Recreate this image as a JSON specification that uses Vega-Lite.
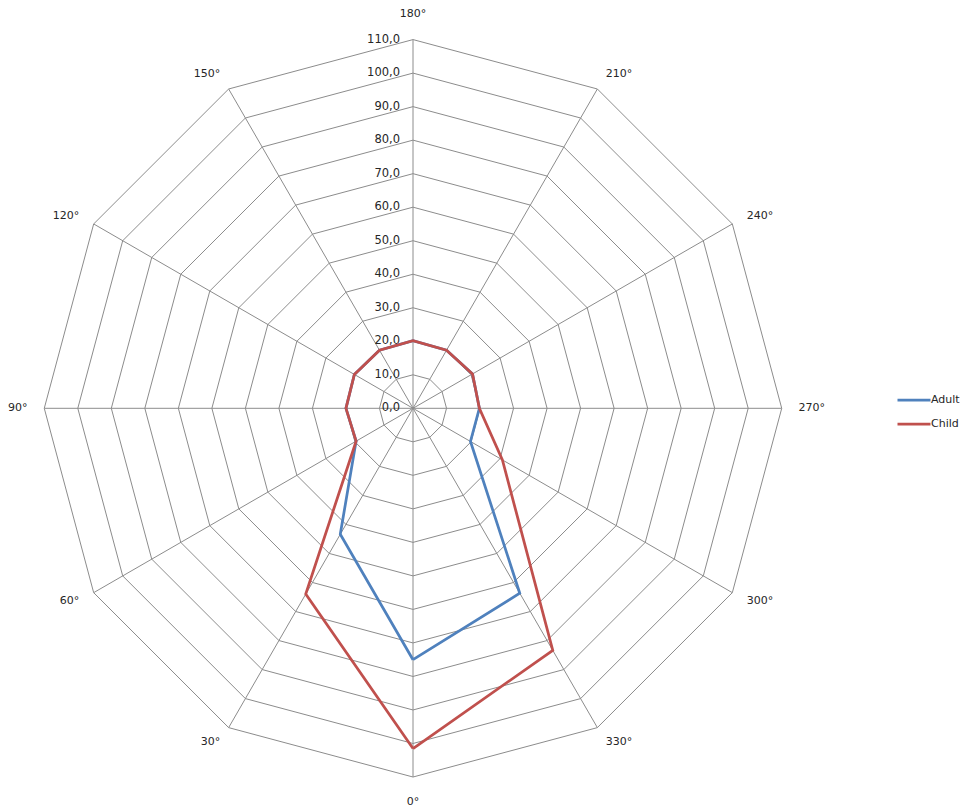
{
  "$schema": "https://vega.github.io/schema/vega-lite/v6.json",
  "width": 963,
  "height": 810,
  "autosize": {"type": "none"},
  "padding": 0,
  "background": "white",
  "view": {"stroke": null},
  "config": {"font": "DejaVu Sans", "text": {"font": "DejaVu Sans"}},
  "datasets": {
    "grid": [
      {"level": [10, 20, 30, 40, 50, 60, 70, 80, 90, 100, 110], "angle": [0, 30, 60, 90, 120, 150, 180, 210, 240, 270, 300, 330, 360]}
    ],
    "spokes": [
      {"angle": 0, "label": "0°"},
      {"angle": 30, "label": "30°"},
      {"angle": 60, "label": "60°"},
      {"angle": 90, "label": "90°"},
      {"angle": 120, "label": "120°"},
      {"angle": 150, "label": "150°"},
      {"angle": 180, "label": "180°"},
      {"angle": 210, "label": "210°"},
      {"angle": 240, "label": "240°"},
      {"angle": 270, "label": "270°"},
      {"angle": 300, "label": "300°"},
      {"angle": 330, "label": "330°"}
    ],
    "rings": [
      {"level": 0, "label": "0,0"},
      {"level": 10, "label": "10,0"},
      {"level": 20, "label": "20,0"},
      {"level": 30, "label": "30,0"},
      {"level": 40, "label": "40,0"},
      {"level": 50, "label": "50,0"},
      {"level": 60, "label": "60,0"},
      {"level": 70, "label": "70,0"},
      {"level": 80, "label": "80,0"},
      {"level": 90, "label": "90,0"},
      {"level": 100, "label": "100,0"},
      {"level": 110, "label": "110,0"}
    ],
    "series": [
      {"series": "Adult", "angle": 0, "value": 75},
      {"series": "Adult", "angle": 30, "value": 43.4},
      {"series": "Adult", "angle": 60, "value": 19.6},
      {"series": "Adult", "angle": 90, "value": 20},
      {"series": "Adult", "angle": 120, "value": 20.2},
      {"series": "Adult", "angle": 150, "value": 20},
      {"series": "Adult", "angle": 180, "value": 20.2},
      {"series": "Adult", "angle": 210, "value": 20},
      {"series": "Adult", "angle": 240, "value": 20.5},
      {"series": "Adult", "angle": 270, "value": 19.8},
      {"series": "Adult", "angle": 300, "value": 19.8},
      {"series": "Adult", "angle": 330, "value": 63.7},
      {"series": "Adult", "angle": 360, "value": 75},
      {"series": "Child", "angle": 0, "value": 101.5},
      {"series": "Child", "angle": 30, "value": 64},
      {"series": "Child", "angle": 60, "value": 19.6},
      {"series": "Child", "angle": 90, "value": 20},
      {"series": "Child", "angle": 120, "value": 20.2},
      {"series": "Child", "angle": 150, "value": 20},
      {"series": "Child", "angle": 180, "value": 20.2},
      {"series": "Child", "angle": 210, "value": 20},
      {"series": "Child", "angle": 240, "value": 20.5},
      {"series": "Child", "angle": 270, "value": 19.8},
      {"series": "Child", "angle": 300, "value": 30.8},
      {"series": "Child", "angle": 330, "value": 83.4},
      {"series": "Child", "angle": 360, "value": 101.5}
    ]
  },
  "layer": [
    {
      "data": {"name": "grid"},
      "transform": [
        {"flatten": ["level"]},
        {"flatten": ["angle"]},
        {"calculate": "-datum.level * sin(datum.angle * PI / 180)", "as": "x"},
        {"calculate": "-datum.level * cos(datum.angle * PI / 180)", "as": "y"}
      ],
      "mark": {"type": "line", "stroke": "#8c8c8c", "strokeWidth": 1},
      "encoding": {
        "x": {"field": "x", "type": "quantitative", "scale": {"domain": [-123.21, 164.08], "nice": false, "zero": false}, "axis": null},
        "y": {"field": "y", "type": "quantitative", "scale": {"domain": [-119.84, 121.81], "nice": false, "zero": false}, "axis": null},
        "detail": {"field": "level", "type": "nominal"},
        "order": {"field": "angle", "type": "quantitative"}
      }
    },
    {
      "data": {"name": "spokes"},
      "transform": [
        {"calculate": "0", "as": "ox"},
        {"calculate": "-110 * sin(datum.angle * PI / 180)", "as": "x"},
        {"calculate": "-110 * cos(datum.angle * PI / 180)", "as": "y"}
      ],
      "mark": {"type": "rule", "stroke": "#8c8c8c", "strokeWidth": 1},
      "encoding": {
        "x": {"field": "ox", "type": "quantitative", "scale": {"domain": [-123.21, 164.08], "nice": false, "zero": false}, "axis": null},
        "y": {"field": "ox", "type": "quantitative", "scale": {"domain": [-119.84, 121.81], "nice": false, "zero": false}, "axis": null},
        "x2": {"field": "x"},
        "y2": {"field": "y"}
      }
    },
    {
      "data": {"name": "spokes"},
      "transform": [
        {"filter": "datum.angle == 0 || datum.angle == 180"},
        {"calculate": "-117.5 * sin(datum.angle * PI / 180)", "as": "x"},
        {"calculate": "-117.5 * cos(datum.angle * PI / 180)", "as": "y"}
      ],
      "mark": {"type": "text", "fontSize": 11, "color": "#262626", "align": "center", "baseline": "middle"},
      "encoding": {
        "x": {"field": "x", "type": "quantitative", "scale": {"domain": [-123.21, 164.08], "nice": false, "zero": false}, "axis": null},
        "y": {"field": "y", "type": "quantitative", "scale": {"domain": [-119.84, 121.81], "nice": false, "zero": false}, "axis": null},
        "text": {"field": "label"}
      }
    },
    {
      "data": {"name": "spokes"},
      "transform": [
        {"filter": "datum.angle > 0 && datum.angle < 180"},
        {"calculate": "-115 * sin(datum.angle * PI / 180)", "as": "x"},
        {"calculate": "-115 * cos(datum.angle * PI / 180)", "as": "y"}
      ],
      "mark": {"type": "text", "fontSize": 11, "color": "#262626", "align": "right", "baseline": "middle"},
      "encoding": {
        "x": {"field": "x", "type": "quantitative", "scale": {"domain": [-123.21, 164.08], "nice": false, "zero": false}, "axis": null},
        "y": {"field": "y", "type": "quantitative", "scale": {"domain": [-119.84, 121.81], "nice": false, "zero": false}, "axis": null},
        "text": {"field": "label"}
      }
    },
    {
      "data": {"name": "spokes"},
      "transform": [
        {"filter": "datum.angle > 180"},
        {"calculate": "-115 * sin(datum.angle * PI / 180)", "as": "x"},
        {"calculate": "-115 * cos(datum.angle * PI / 180)", "as": "y"}
      ],
      "mark": {"type": "text", "fontSize": 11, "color": "#262626", "align": "left", "baseline": "middle"},
      "encoding": {
        "x": {"field": "x", "type": "quantitative", "scale": {"domain": [-123.21, 164.08], "nice": false, "zero": false}, "axis": null},
        "y": {"field": "y", "type": "quantitative", "scale": {"domain": [-119.84, 121.81], "nice": false, "zero": false}, "axis": null},
        "text": {"field": "label"}
      }
    },
    {
      "data": {"name": "rings"},
      "transform": [
        {"calculate": "0", "as": "ox"}
      ],
      "mark": {"type": "text", "fontSize": 11.5, "color": "#262626", "align": "right", "baseline": "middle", "dx": -13},
      "encoding": {
        "x": {"field": "ox", "type": "quantitative", "scale": {"domain": [-123.21, 164.08], "nice": false, "zero": false}, "axis": null},
        "y": {"field": "level", "type": "quantitative", "scale": {"domain": [-119.84, 121.81], "nice": false, "zero": false}, "axis": null},
        "text": {"field": "label"}
      }
    },
    {
      "data": {"name": "series"},
      "transform": [
        {"calculate": "-datum.value * sin(datum.angle * PI / 180)", "as": "x"},
        {"calculate": "-datum.value * cos(datum.angle * PI / 180)", "as": "y"}
      ],
      "mark": {"type": "line", "strokeWidth": 2.75, "strokeJoin": "miter"},
      "encoding": {
        "x": {"field": "x", "type": "quantitative", "scale": {"domain": [-123.21, 164.08], "nice": false, "zero": false}, "axis": null},
        "y": {"field": "y", "type": "quantitative", "scale": {"domain": [-119.84, 121.81], "nice": false, "zero": false}, "axis": null},
        "order": {"field": "angle", "type": "quantitative"},
        "color": {
          "field": "series",
          "type": "nominal",
          "scale": {"domain": ["Adult", "Child"], "range": ["#4f81bd", "#c0504d"]},
          "legend": {
            "title": null,
            "orient": "none",
            "legendX": 896,
            "legendY": 382,
            "padding": 0,
            "symbolType": "stroke",
            "symbolSize": 1089,
            "symbolStrokeWidth": 2.75,
            "labelFont": "DejaVu Sans",
            "labelFontSize": 11,
            "labelColor": "#262626",
            "labelOffset": -1,
            "rowPadding": 0
          }
        }
      }
    }
  ]
}
